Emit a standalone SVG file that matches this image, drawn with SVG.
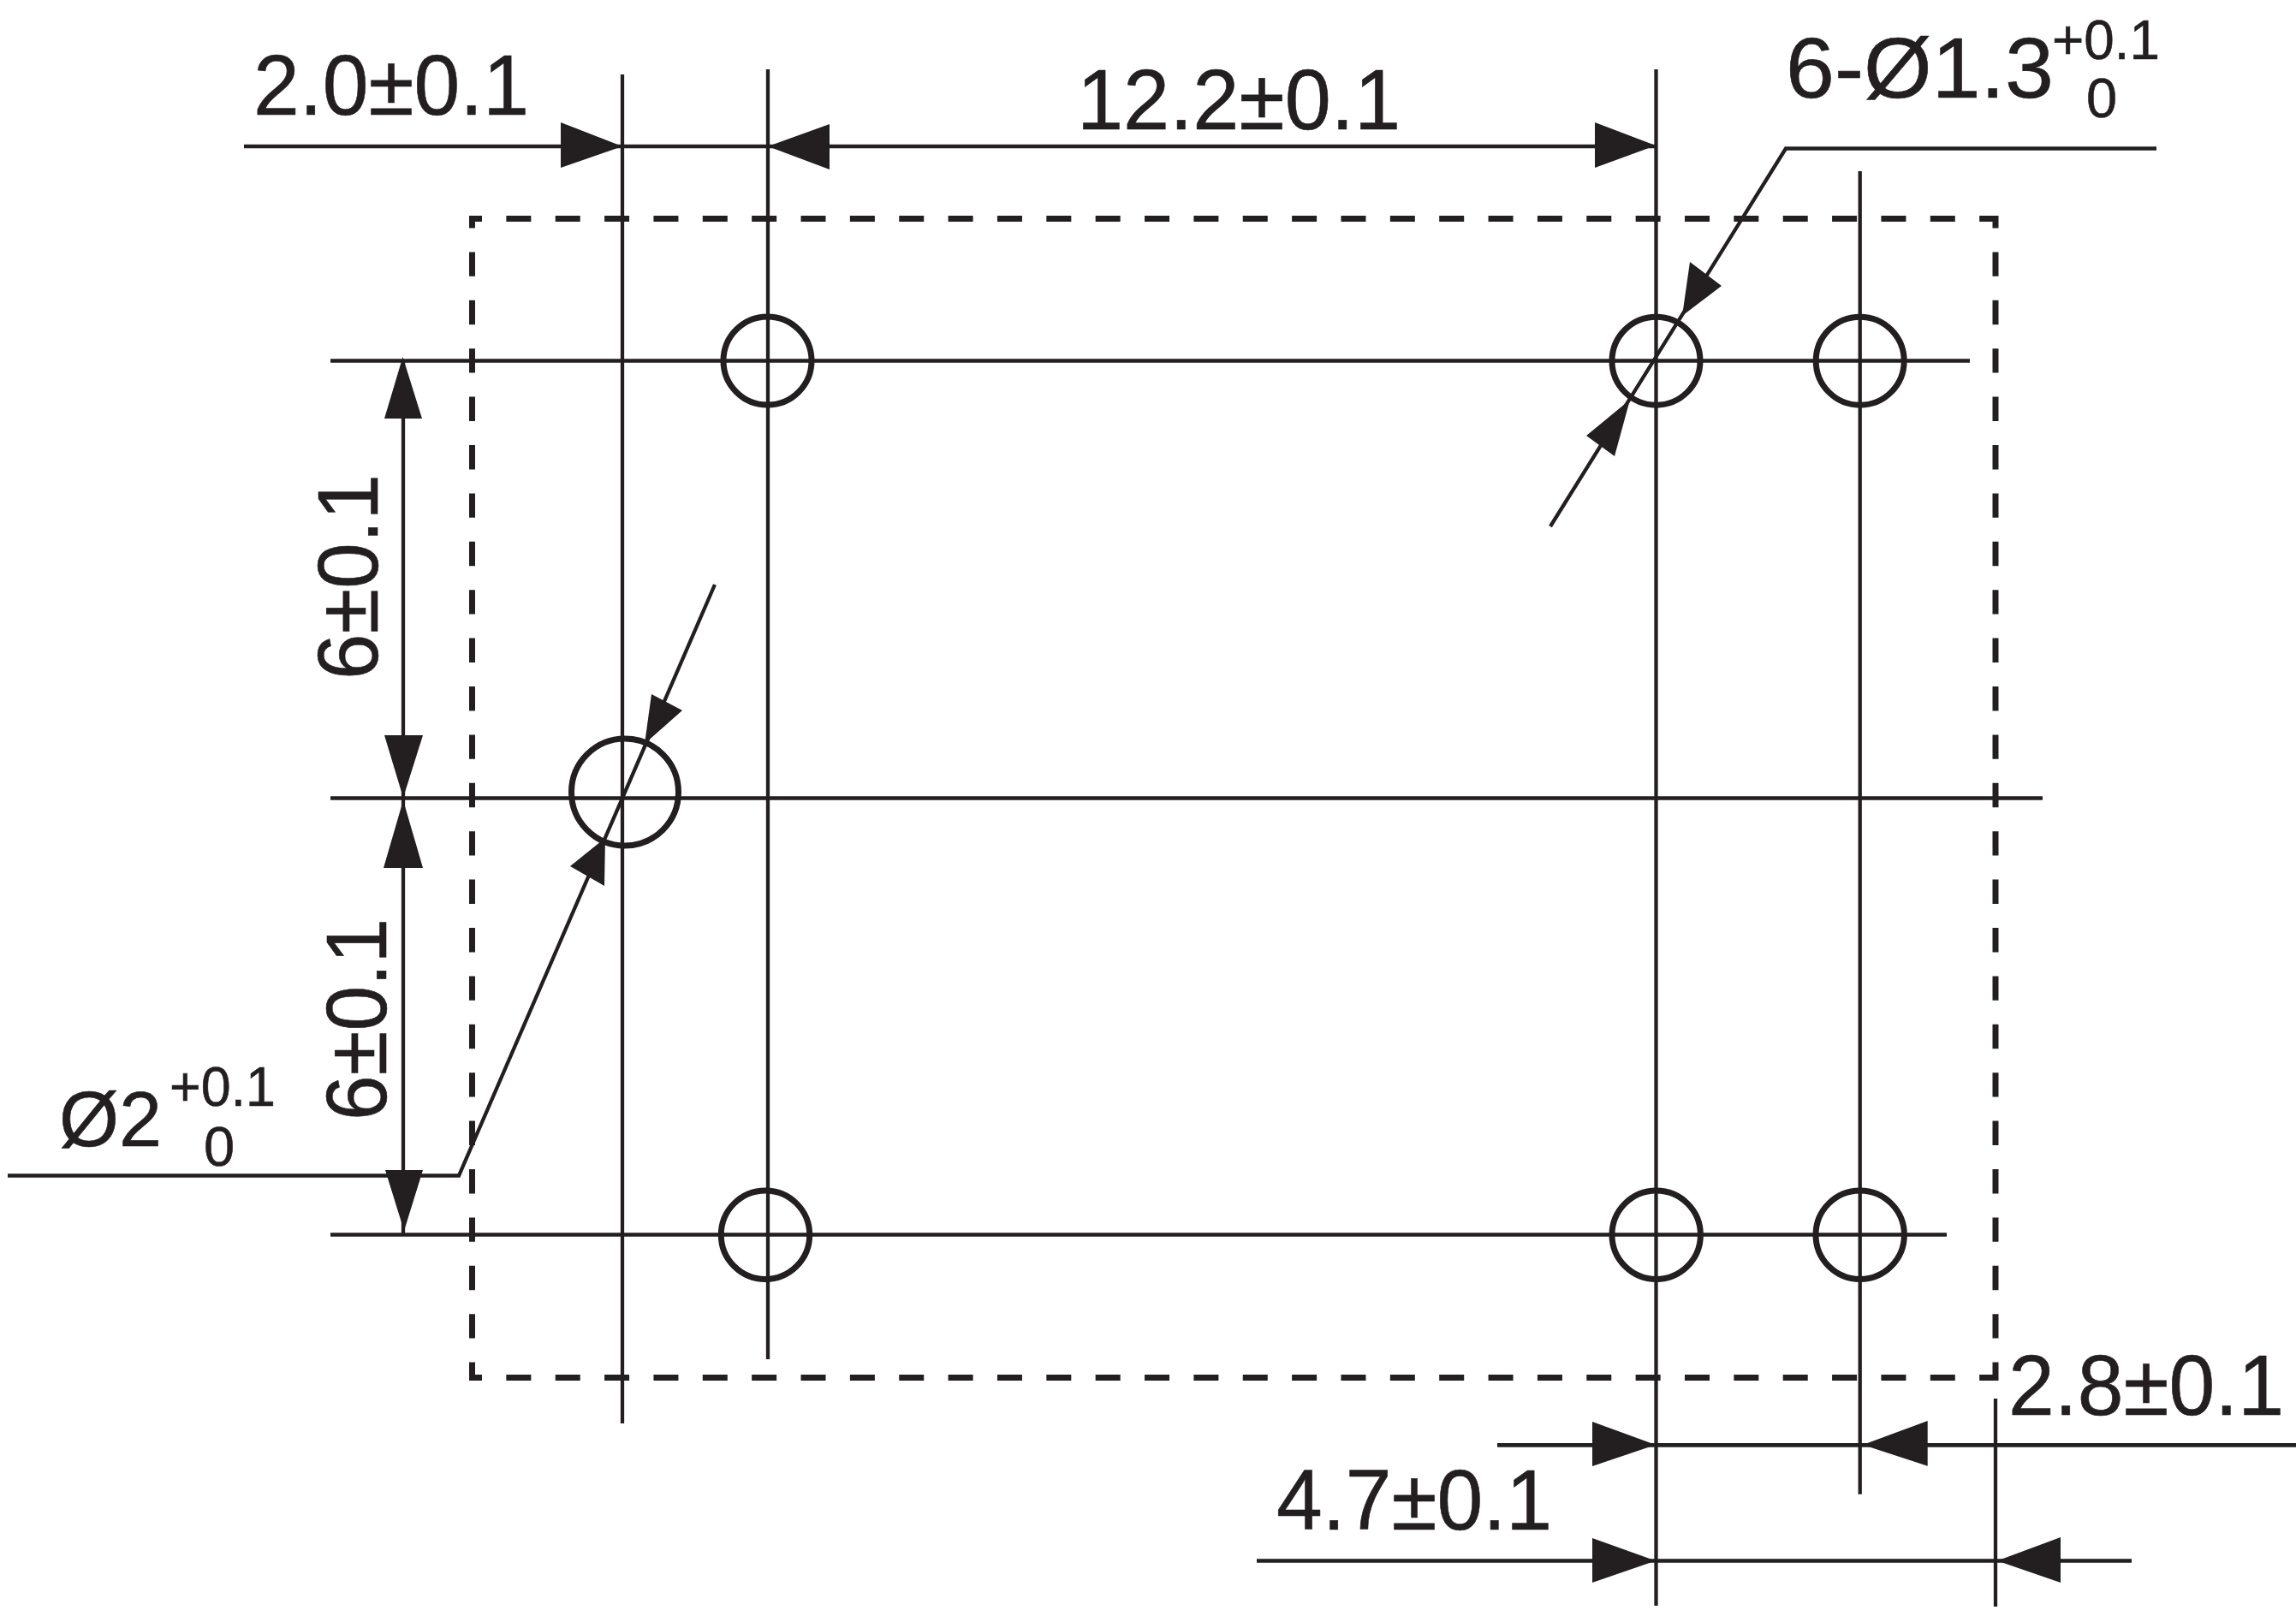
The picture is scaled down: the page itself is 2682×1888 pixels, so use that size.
<svg xmlns="http://www.w3.org/2000/svg" width="2682" height="1888" viewBox="0 0 2682 1888">
<style>
.l{stroke:#231f20;stroke-width:4.700;fill:none}
.v{stroke:#231f20;stroke-width:4.300;fill:none}
.dh{stroke:#231f20;stroke-width:7;fill:none;stroke-dasharray:29 28.360;stroke-dashoffset:14}
.dv{stroke:#231f20;stroke-width:7;fill:none;stroke-dasharray:28.400 28;stroke-dashoffset:14}
.c{stroke:#231f20;stroke-width:7;fill:none}
.a{fill:#231f20;stroke:none}
text{font-family:"Liberation Sans",Arial,sans-serif;fill:#231f20;stroke:#231f20;stroke-width:.6}
.t{font-size:100px}
.s{font-size:65px}
</style>
<rect width="2682" height="1888" fill="#fff"/>
<g id="outline">
<path class="dh" d="M548 255.500H2334"/>
<path class="dv" d="M551.500 252V1613"/>
<path class="dv" d="M2331 252V1613"/>
<path class="dh" d="M548 1609.500H2334"/>
</g>
<g id="connectors">
<path class="v" d="M727 87V1663M897 81V1588M1934.500 81V1876M2172.700 200V1745.700M2331 1634V1877"/>
<path class="l" d="M386 421.500H2301M386 932.500H2386M386 1442.500H2274"/>
<path class="l" d="M285 171H1934M1749 1688.300H2682M1468 1823.500H2490"/>
<path class="v" d="M471 421V1442"/>
<path class="v" d="M2519 173.500H2086L1811 615"/>
<path class="v" d="M9 1373.500H536L835 683"/>
</g>
<g id="arrowheads">
<polygon class="a" points="727,171 655,143 655,196"/>
<polygon class="a" points="897,171 969,145 969,198"/>
<polygon class="a" points="1934,170 1863,143 1863,196"/>
<polygon class="a" points="1934,1688 1860,1661 1860,1713"/>
<polygon class="a" points="2176,1688 2251.700,1660 2251.700,1712.700"/>
<polygon class="a" points="1934,1823.500 1860,1797 1860,1849"/>
<polygon class="a" points="2333,1823.500 2407,1796 2407,1849"/>
<polygon class="a" points="470.500,417 493,489 449,489"/>
<polygon class="a" points="471,932 494,859 449,859"/>
<polygon class="a" points="471,935 494,1014 448,1014"/>
<polygon class="a" points="472,1438 494,1367 450,1367"/>
<polygon class="a" points="1965,369 1974,306 2011,334"/>
<polygon class="a" points="1904,467 1853,509 1886,533"/>
<polygon class="a" points="707,979 666,1012 706,1035"/>
<polygon class="a" points="753,869 761,811 797,830"/>
</g>
<g id="holes">
<circle id="hole-1" class="c" cx="896.500" cy="421.500" r="51.500"/>
<circle id="hole-2" class="c" cx="1934.500" cy="421.700" r="51.500"/>
<circle id="hole-3" class="c" cx="2172.700" cy="421.700" r="51.500"/>
<circle id="hole-4" class="c" cx="894" cy="1442.700" r="51.700"/>
<circle id="hole-5" class="c" cx="1934.700" cy="1442.700" r="51.700"/>
<circle id="hole-6" class="c" cx="2172.700" cy="1442.700" r="51.700"/>
<circle id="hole-7" class="c" cx="730" cy="925.500" r="62.500"/>
</g>
<g id="labels">
<text class="t" x="296" y="134" textLength="322" lengthAdjust="spacingAndGlyphs">2.0±0.1</text>
<text class="t" x="1258" y="151" textLength="378" lengthAdjust="spacingAndGlyphs">12.2±0.1</text>
<text class="t" x="2086" y="114" textLength="313" lengthAdjust="spacingAndGlyphs">6-Ø1.3</text>
<text class="s" x="2397" y="68.500" textLength="126" lengthAdjust="spacingAndGlyphs">+0.1</text>
<text class="s" x="2437" y="137">0</text>
<text class="t" x="2346" y="1653" textLength="322" lengthAdjust="spacingAndGlyphs">2.8±0.1</text>
<text class="t" x="1491" y="1787" textLength="322" lengthAdjust="spacingAndGlyphs">4.7±0.1</text>
<text class="t" transform="translate(441 794) rotate(-90)" textLength="240" lengthAdjust="spacingAndGlyphs">6±0.1</text>
<text class="t" transform="translate(451 1309) rotate(-90)" textLength="236" lengthAdjust="spacingAndGlyphs">6±0.1</text>
<text style="font-size:90px" x="69" y="1339">Ø2</text>
<text class="s" x="198" y="1292" textLength="124" lengthAdjust="spacingAndGlyphs">+0.1</text>
<text class="s" x="238" y="1362">0</text>
</g>
</svg>
